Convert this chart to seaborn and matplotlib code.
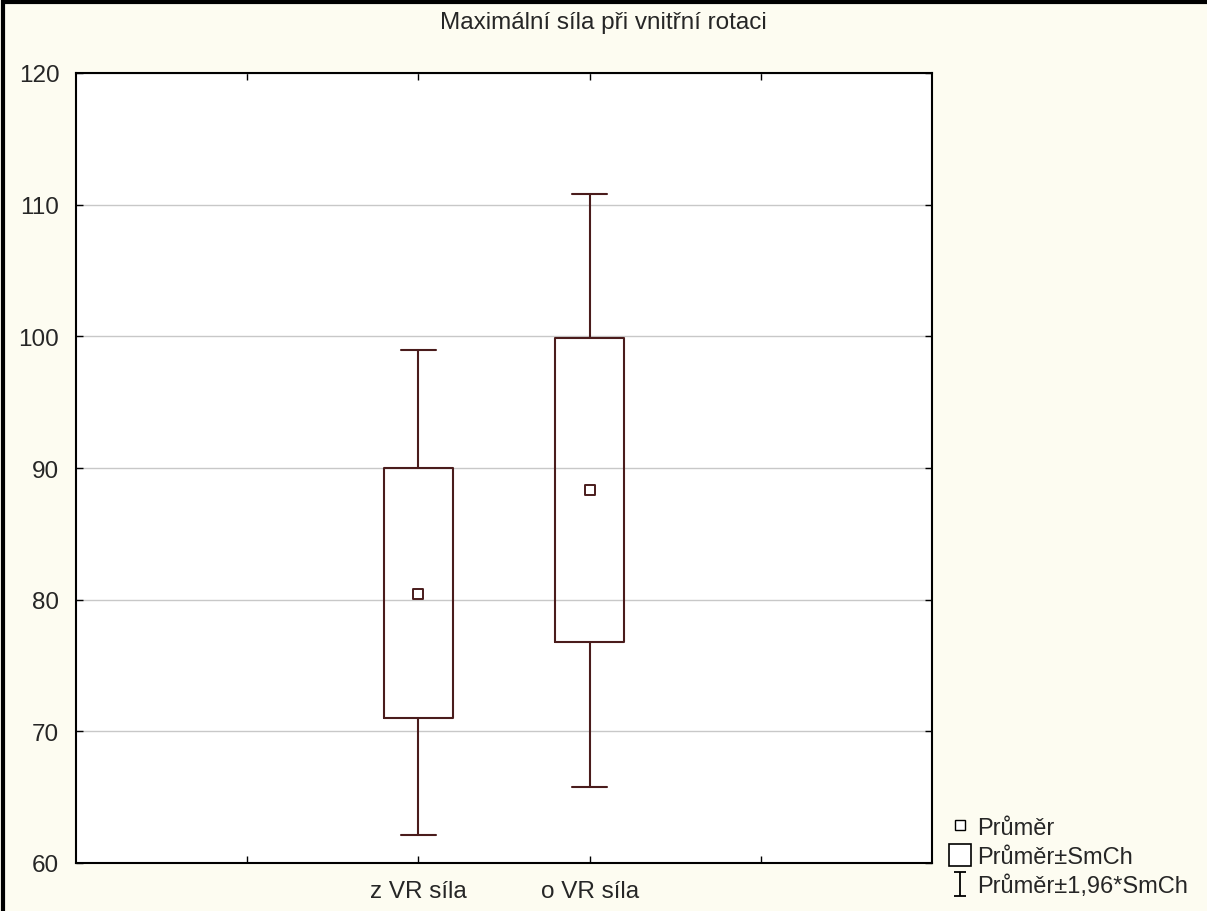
import numpy as np
import pandas as pd
import seaborn as sns
import matplotlib.pyplot as plt
from matplotlib.path import Path
from matplotlib.lines import Line2D
from matplotlib.patches import Rectangle

# values
variables = ['z VR síla', 'o VR síla']
means = [80.4, 88.3]
se_lo = [71.0, 76.8]
se_hi = [90.0, 99.9]
ci_lo = [62.1, 65.8]
ci_hi = [99.0, 110.8]
yticks = [60, 70, 80, 90, 100, 110, 120]

line_col = '#4a1c1c'
bg_col = '#fdfcf1'

sns.set_theme(style='white')
plt.rcParams['font.family'] = ['Liberation Sans Narrow', 'Liberation Sans', 'DejaVu Sans']

df = pd.DataFrame({'pos': [0, 1], 'var': variables, 'mean': means})

fig = plt.figure(figsize=(12.07, 9.12), dpi=100, facecolor=bg_col)
ax = fig.add_axes([76 / 1207, 1 - 864 / 912, (932 - 76) / 1207, (864 - 74) / 912])
ax.set_facecolor('white')

# frame around the whole figure (left/top visible)
fig.patches.append(Rectangle((3 / 1207, -0.05), 1.1, 1 - 3 / 912 + 0.05, transform=fig.transFigure,
                             fill=False, edgecolor='black', linewidth=3, zorder=0))

stats = []
for i in range(len(variables)):
    stats.append({'med': means[i], 'q1': se_lo[i], 'q3': se_hi[i],
                  'whislo': ci_lo[i], 'whishi': ci_hi[i], 'fliers': []})
ax.bxp(stats, positions=df['pos'], widths=0.4, capwidths=0.2, showfliers=False,
       boxprops=dict(color=line_col, linewidth=1.5),
       whiskerprops=dict(color=line_col, linewidth=1.5),
       capprops=dict(color=line_col, linewidth=1.5),
       medianprops=dict(linewidth=0), manage_ticks=False)

sns.scatterplot(data=df, x='pos', y='mean', marker='s', s=60, facecolor='white',
                edgecolor=line_col, linewidth=1.4, ax=ax, zorder=5, legend=False)

ax.set_xlim(-2, 3)
ax.set_ylim(60, 120)
ax.set_yticks(yticks)
ax.set_xticks([-1, 0, 1, 2])
ax.set_xticklabels(['', variables[0], variables[1], ''])
ax.yaxis.grid(True, color='#c8c8c8', linewidth=1)
ax.set_axisbelow(True)
ax.set_xlabel('')
ax.set_ylabel('')
ax.tick_params(axis='both', direction='in', length=5, width=1, color='black',
               top=True, right=True, bottom=True, left=True, labelsize=17.5, pad=12)
ax.tick_params(axis='x', pad=12)
for sp in ax.spines.values():
    sp.set_color('black')
    sp.set_linewidth(1.5)

fig.text(0.5, 1 - 23 / 912, 'Maximální síla při vnitřní rotaci', ha='center', va='center', fontsize=17.5)

ibeam = Path([(-0.5, 1), (0.5, 1), (0, 1), (0, -1), (-0.5, -1), (0.5, -1)],
             [Path.MOVETO, Path.LINETO, Path.MOVETO, Path.LINETO, Path.MOVETO, Path.LINETO])
handles = [
    Line2D([], [], linestyle='none', marker='s', markersize=7, markerfacecolor='white',
           markeredgecolor='black', markeredgewidth=1),
    Line2D([], [], linestyle='none', marker='s', markersize=16, markerfacecolor='white',
           markeredgecolor='black', markeredgewidth=1.2),
    Line2D([], [], linestyle='none', marker=ibeam, markersize=17, markerfacecolor='none',
           markeredgecolor='black', markeredgewidth=1.3),
]
labels = ['Průměr', 'Průměr±SmCh', 'Průměr±1,96*SmCh']
fig.legend(handles, labels, loc='lower left', bbox_to_anchor=(933 / 1207, -3 / 912),
           frameon=False, fontsize=17, handlelength=0.9, handletextpad=0.25,
           labelspacing=0.3, borderpad=0.2)

fig.savefig('out.png', dpi=100, facecolor=bg_col)
